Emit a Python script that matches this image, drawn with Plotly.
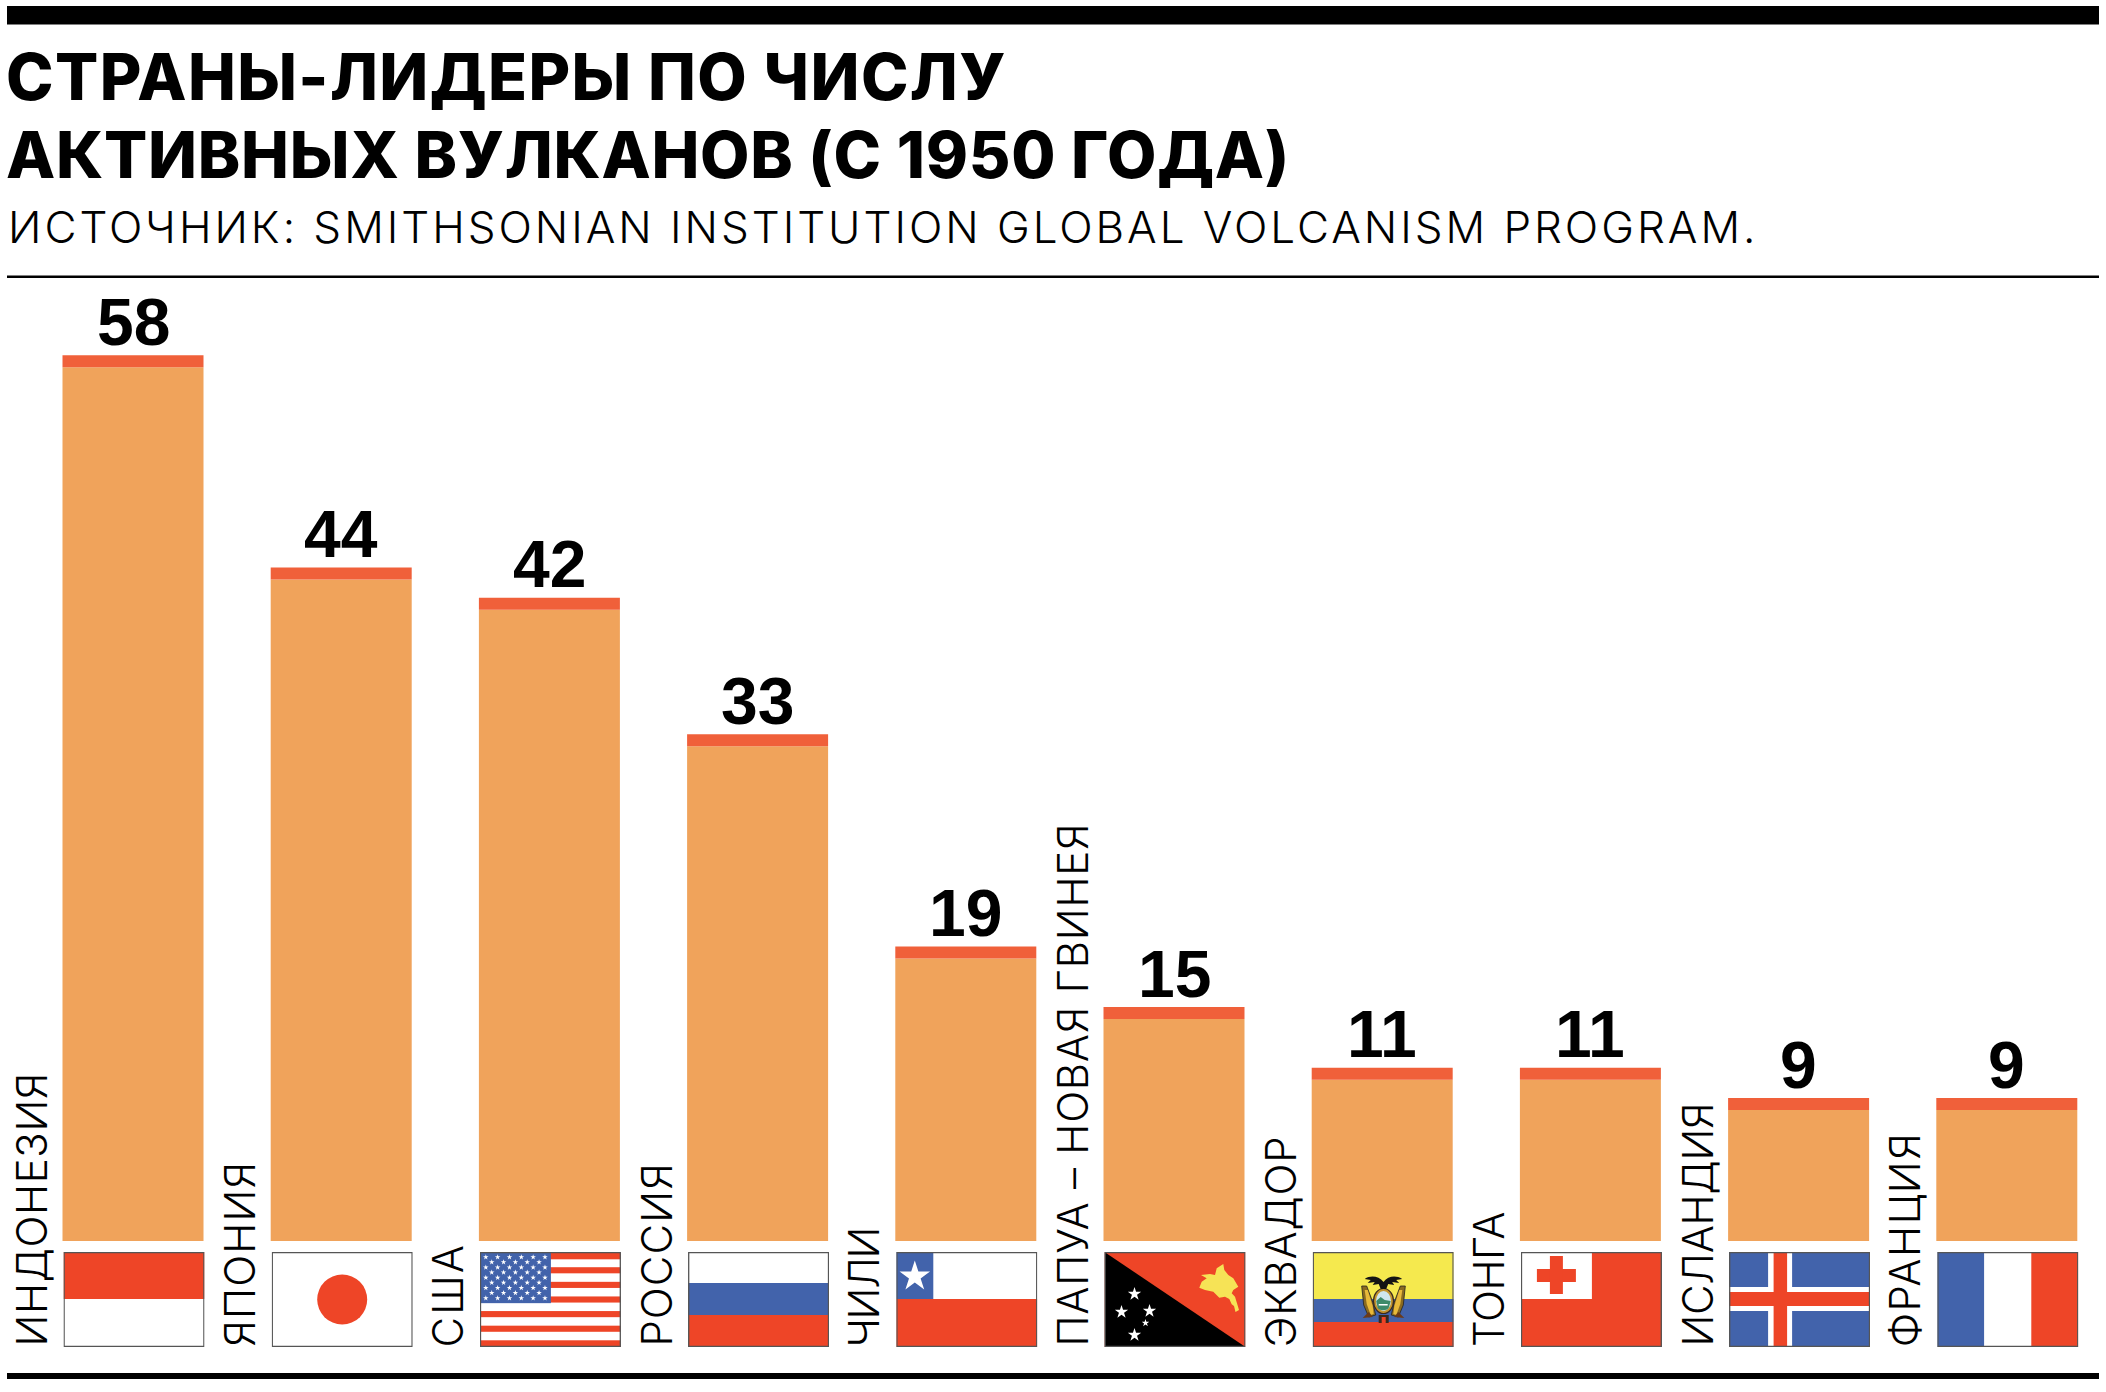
import base64, json, math
import plotly.graph_objects as go

countries = ["ИНДОНЕЗИЯ", "ЯПОНИЯ", "США", "РОССИЯ", "ЧИЛИ", "ПАПУА – НОВАЯ ГВИНЕЯ",
             "ЭКВАДОР", "ТОНГА", "ИСЛАНДИЯ", "ФРАНЦИЯ"]
values = [58, 44, 42, 33, 19, 15, 11, 11, 9, 9]
flag_keys = ["id", "jp", "us", "ru", "cl", "pg", "ec", "to", "is", "fr"]
title_lines = ["СТРАНЫ-ЛИДЕРЫ ПО ЧИСЛУ", "АКТИВНЫХ ВУЛКАНОВ (С 1950 ГОДА)"]
source_line = "ИСТОЧНИК: SMITHSONIAN INSTITUTION GLOBAL VOLCANISM PROGRAM."

# letter spacing (px) that brings the substitute font to the reference text widths
tracking = {title_lines[0]: 1.4, title_lines[1]: 0.75, source_line: 2.97,
            "ИНДОНЕЗИЯ": 0.6, "ЯПОНИЯ": 1.1, "США": 2.0, "РОССИЯ": 1.1, "ЧИЛИ": -1.3,
            "ПАПУА – НОВАЯ ГВИНЕЯ": 0.75, "ЭКВАДОР": 0.77, "ТОНГА": -0.5, "ИСЛАНДИЯ": -0.3, "ФРАНЦИЯ": 1.5}

W, H = 2106, 1392
X0, XSTEP = 133.0, 208.2
Y0, YSCALE = 1234.5, 15.16
BAR_W_UNITS = 141 / XSTEP
STRIP = 12 / YSCALE
BASE = -6.5 / YSCALE

ORANGE, STRIPC = "#F0A35B", "#F0603A"
RED, BLUE, YEL, WHITE = "#EE4527", "#4263AB", "#F5E94E", "#FFFFFF"
BOLD = "Liberation Sans"
LIGHT = "Inter"


def star(cx, cy, r, fill="#fff"):
    pts = []
    for i in range(10):
        a = -math.pi / 2 + i * math.pi / 5
        rr = r if i % 2 == 0 else r * 0.382
        pts.append(f"{cx + rr * math.cos(a):.2f},{cy + rr * math.sin(a):.2f}")
    return f'<polygon points="{" ".join(pts)}" fill="{fill}"/>'


def rect(x, y, w, h, c):
    return f'<rect x="{x}" y="{y}" width="{w}" height="{h}" fill="{c}"/>'


def us():
    s = rect(0, 0, 141, 95, WHITE)
    sh = 95 / 13
    for i in range(0, 13, 2):
        s += rect(0, i * sh + 0.6, 141, sh - 1.2 + (0.6 if i in (0, 12) else 0), RED)
    s += rect(0, 0, 71, 7 * sh, BLUE)
    for r in range(9):
        n = 6 if r % 2 == 0 else 5
        for c in range(n):
            s += star((c + (0.5 if r % 2 == 0 else 1)) * 71 / 6, (r + 1) * 7 * sh / 10, 2.9)
    return s


def ec():
    s = rect(0, 0, 141, 47, YEL) + rect(0, 47, 141, 23, BLUE) + rect(0, 70, 141, 25, RED)
    # side flags of the crest
    for m in ("", 'transform="translate(141.6,0) scale(-1,1)"'):
        s += f'<g {m}><polygon points="49,34 54,34 60,50 63,63 56,65 51,53" fill="#8A6A20" stroke="#222" stroke-width="0.8"/>'
        s += '<polygon points="52,38 55,38 60,54 61,62 58,63 54,52" fill="#E8B93A"/>'
        s += '<polygon points="56,60 50,66 60,65" fill="#6B3A18"/></g>'
    s += rect(66, 63, 10, 8, "#3A2A20") + rect(69, 65, 4, 6, RED)
    s += '<ellipse cx="70.8" cy="49" rx="10" ry="12.5" fill="#C2932E" stroke="#3A2A20" stroke-width="1.2"/>'
    s += '<ellipse cx="70.8" cy="49" rx="7.5" ry="10" fill="#CFE6EE"/>'
    s += '<path d="M63.5 49 L68 45 L72 48 L78 49 L76 56 C74 59 67 59 65 56Z" fill="#3E8A6A"/>'
    s += '<rect x="66" y="52" width="9" height="1.5" fill="#fff"/>'
    s += '<path d="M70.8 30 C66 24 58 23 52 27 L58 28 L55 31 L62 30 L60 33 L66 32 L68 37 L73.5 37 L75.5 32 L81.5 33 L79.5 30 L86.5 31 L83.5 28 L89.5 27 C83 23 75.5 24 70.8 30Z" fill="#141414"/>'
    return s


BIRD = ("118.8,12 119.8,18 123.8,23 128.8,26.3 133.8,34.7 128.8,38 127.2,41.3 130.5,44.7 132.8,52.3 134.5,58 "
        "131,60 129.5,54 127.2,52.3 124.8,47 120.5,44.7 114.8,45.7 108.8,39.7 100.5,38 94.8,35.7 97.2,29.7 "
        "102.2,26.3 96.5,23 105.5,22 110.5,23 112.2,16.3")

FLAGS = {
    "id": rect(0, 0, 141, 95, WHITE) + rect(0, 0, 141, 47, RED),
    "jp": rect(0, 0, 141, 95, WHITE) + f'<circle cx="70.5" cy="47.5" r="25" fill="{RED}"/>',
    "us": us(),
    "ru": rect(0, 0, 141, 31, WHITE) + rect(0, 31, 141, 32, BLUE) + rect(0, 63, 141, 32, RED),
    "cl": rect(0, 0, 141, 47, WHITE) + rect(0, 47, 141, 48, RED) + rect(0, 0, 37, 47, BLUE) + star(18.5, 24.5, 16),
    "pg": rect(0, 0, 141, 95, RED) + '<polygon points="0,0 141,95 0,95" fill="#000"/>'
          + star(30, 42, 7) + star(17, 60, 7) + star(45, 59, 7) + star(41, 71, 4) + star(30, 83, 7)
          + f'<polygon points="{BIRD}" fill="#F6E356"/>',
    "ec": ec(),
    "to": rect(0, 0, 141, 95, RED) + rect(0, 0, 71, 47, WHITE) + rect(16, 17, 39, 13, RED) + rect(29, 4, 13, 38, RED),
    "is": rect(0, 0, 141, 95, BLUE) + rect(39, 0, 24, 95, WHITE) + rect(0, 35, 141, 24, WHITE)
          + rect(44.5, 0, 13.5, 95, RED) + rect(0, 40, 141, 14, RED),
    "fr": rect(0, 0, 47, 95, BLUE) + rect(47, 0, 47, 95, WHITE) + rect(94, 0, 47, 95, RED),
}


def flag_uri(key):
    svg = (f'<svg xmlns="http://www.w3.org/2000/svg" width="141" height="95" viewBox="0 0 141 95">'
           f'{FLAGS[key]}<rect x="0.6" y="0.6" width="139.8" height="93.8" fill="none" stroke="#555" stroke-width="1.3"/></svg>')
    return "data:image/svg+xml;base64," + base64.b64encode(svg.encode()).decode()


def px(x):
    return x / W


def py(y):
    return 1 - y / H


xs = list(range(len(values)))
fig = go.Figure()
fig.add_bar(x=xs, y=[v - STRIP - BASE for v in values], base=BASE, width=BAR_W_UNITS,
            marker=dict(color=ORANGE, line=dict(width=0)), showlegend=False, hoverinfo="skip")
fig.add_bar(x=xs, y=[STRIP] * len(values), base=[v - STRIP for v in values], width=BAR_W_UNITS,
            marker=dict(color=STRIPC, line=dict(width=0)), showlegend=False, hoverinfo="skip")

ann = []
for i, line in enumerate(title_lines):
    ann.append(dict(text=line, xref="paper", yref="paper", x=px(4), y=py(99 + 78 * i + 18), xanchor="left", yanchor="bottom",
                    showarrow=False, font=dict(family=LIGHT, size=64, color="#000", weight=800)))
ann.append(dict(text=source_line, xref="paper", yref="paper", x=px(6), y=py(243 + 13), xanchor="left", yanchor="bottom",
                showarrow=False, font=dict(family=LIGHT, size=44, color="#000", weight=300)))
for i, (c, v) in enumerate(zip(countries, values)):
    ann.append(dict(text=str(v), x=i, y=v, xref="x", yref="y", xanchor="center", yanchor="bottom", yshift=-5.5,
                    showarrow=False, font=dict(family=BOLD, size=66, color="#000", weight=700)))
    ann.append(dict(text=c, x=i, y=py(1349), xref="x", yref="paper", xanchor="center", yanchor="bottom", xshift=-102,
                    textangle=-90, showarrow=False, font=dict(family=LIGHT, size=42, color="#000", weight=300)))

images = [dict(source=flag_uri(k), xref="x", yref="paper", x=i + 1 / XSTEP - BAR_W_UNITS / 2, y=py(1252),
               sizex=BAR_W_UNITS, sizey=95 / H, xanchor="left", yanchor="top", sizing="stretch", layer="above")
          for i, k in enumerate(flag_keys)]

shapes = [dict(type="rect", xref="paper", yref="paper", x0=px(a), x1=px(b), y0=py(c), y1=py(d),
               fillcolor="#000", line=dict(width=0))
          for a, b, c, d in [(7, 2099, 6, 24.5), (7, 2099, 275.5, 278), (7, 2099, 1373, 1379)]]

fig.update_layout(
    width=W, height=H, autosize=False, margin=dict(l=0, r=0, t=0, b=0),
    paper_bgcolor="#fff", plot_bgcolor="#fff", barmode="overlay",
    xaxis=dict(range=[-X0 / XSTEP, (W - X0) / XSTEP], visible=False, fixedrange=True),
    yaxis=dict(range=[-(H - Y0) / YSCALE, Y0 / YSCALE], visible=False, fixedrange=True),
    annotations=ann, images=images, shapes=shapes,
)
post = """
document.body.style.margin='0';
var TRACK = %s;
function track(){
  document.querySelectorAll('.annotation-text').forEach(function(t){
    var sp = TRACK[t.textContent];
    if(sp !== undefined && !t.dataset.sp){
      var b=t.getBBox().x; t.style.letterSpacing=sp+'px'; var a=t.getBBox().x;
      t.setAttribute('x', parseFloat(t.getAttribute('x'))+(b-a)); t.dataset.sp='1';
    }
  });
}
track(); setTimeout(track,100);
""" % json.dumps(tracking, ensure_ascii=False)
fig.write_html("out.html", config=dict(displayModeBar=False), post_script=post)
